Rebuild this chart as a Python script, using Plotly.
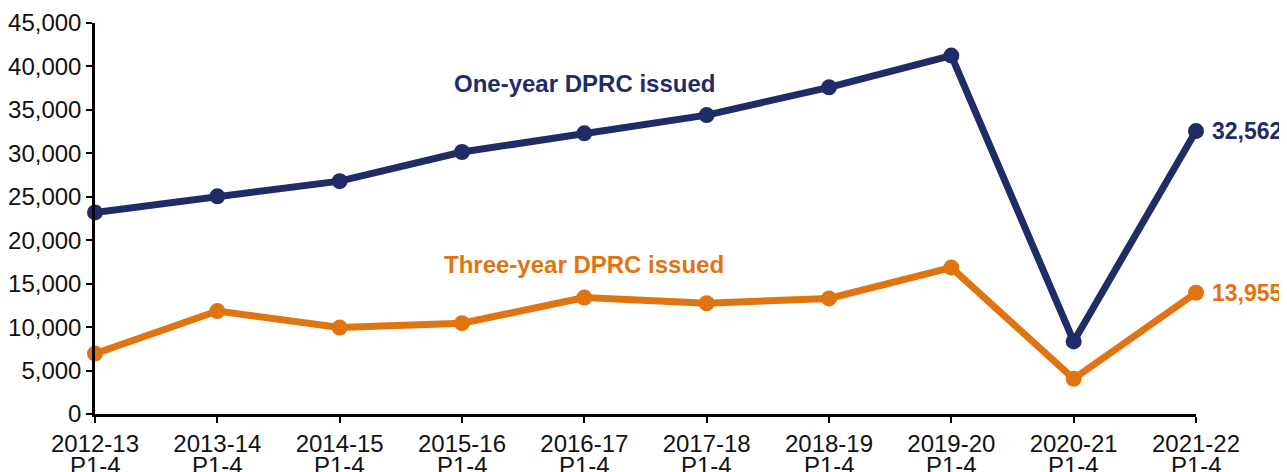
import plotly.graph_objects as go

years = ["2012-13", "2013-14", "2014-15", "2015-16", "2016-17",
         "2017-18", "2018-19", "2019-20", "2020-21", "2021-22"]
periods = ["P1-4"] * 10
one_year = [23200, 25050, 26800, 30150, 32300, 34400, 37600, 41250, 8350, 32562]
three_year = [6950, 11850, 9950, 10450, 13400, 12750, 13300, 16850, 4050, 13955]
y_ticks = [0, 5000, 10000, 15000, 20000, 25000, 30000, 35000, 40000, 45000]
y_tick_labels = ["0", "5,000", "10,000", "15,000", "20,000", "25,000", "30,000", "35,000", "40,000", "45,000"]

NAVY = "#1f2c66"
ORANGE = "#e07410"
FONT = "Liberation Sans, Arial, sans-serif"
TXT = "#111111"

fig = go.Figure()
fig.add_trace(go.Scatter(x=years, y=one_year, mode="lines+markers",
                         line=dict(color=NAVY, width=7), marker=dict(color=NAVY, size=16),
                         cliponaxis=False, showlegend=False))
fig.add_trace(go.Scatter(x=years, y=three_year, mode="lines+markers",
                         line=dict(color=ORANGE, width=7), marker=dict(color=ORANGE, size=16),
                         cliponaxis=False, showlegend=False))

fig.add_annotation(x=years[-1], y=one_year[-1], text=f"<b>{one_year[-1]:,}</b>",
                   xanchor="left", xshift=14, showarrow=False,
                   font=dict(color=NAVY, size=23, family=FONT))
fig.add_annotation(x=years[-1], y=three_year[-1], text=f"<b>{three_year[-1]:,}</b>",
                   xanchor="left", xshift=14, showarrow=False,
                   font=dict(color=ORANGE, size=23, family=FONT))
fig.add_annotation(x=4.0, y=38000, text="<b>One-year DPRC issued</b>", showarrow=False,
                   xanchor="center", font=dict(color=NAVY, size=24, family=FONT))
fig.add_annotation(x=4.0, y=17200, text="<b>Three-year DPRC issued</b>", showarrow=False,
                   xanchor="center", font=dict(color=ORANGE, size=24, family=FONT))

for yr, p in zip(years, periods):
    fig.add_annotation(x=yr, y=0, text=p, showarrow=False, xanchor="center",
                       yanchor="top", yshift=-37, borderpad=0,
                       font=dict(color=TXT, size=24, family=FONT))

# the page body has an 8px default margin, so the figure is sized to fit the window
fig.update_layout(
    width=1279, height=464,
    margin=dict(l=87, r=91, t=15, b=58),
    paper_bgcolor="white", plot_bgcolor="white",
    font=dict(family=FONT, size=24, color=TXT),
    xaxis=dict(type="category", range=[0, 9], showline=True, linecolor="black", linewidth=2.5,
               ticks="outside", ticklen=6, tickwidth=2, tickcolor="black", automargin=False,
               showgrid=False, zeroline=False, tickfont=dict(size=24, color=TXT)),
    yaxis=dict(range=[0, 45000], tickvals=y_ticks, ticktext=y_tick_labels,
               showline=True, linecolor="black", linewidth=2.5, automargin=False,
               ticks="outside", ticklen=6, tickwidth=2, tickcolor="black",
               showgrid=False, zeroline=False, tickfont=dict(size=24, color=TXT)),
)

fig.write_html("out.html")
